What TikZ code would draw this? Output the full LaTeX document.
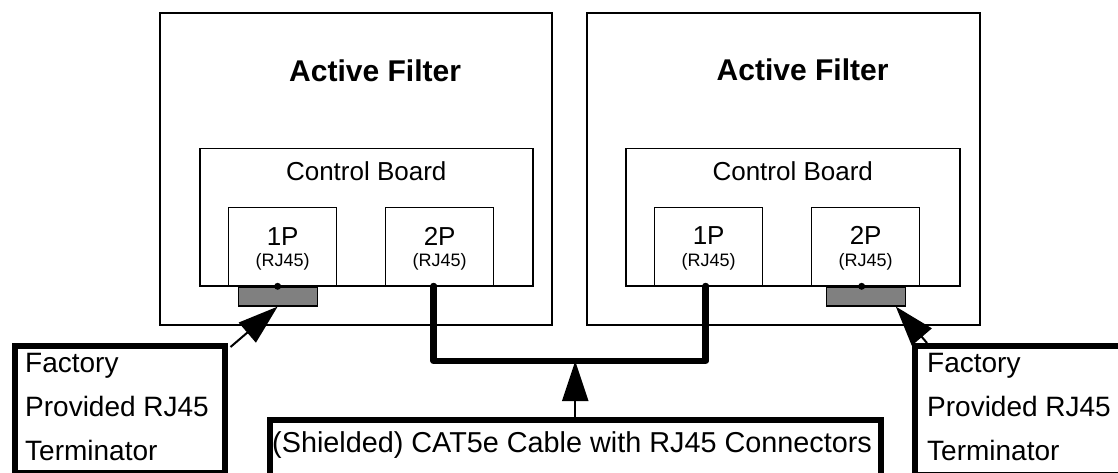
\documentclass[tikz,border=0pt]{standalone}
\usepackage{fontspec}
\setmainfont{Liberation Sans}
\usepackage{tikz}
\usetikzlibrary{positioning,arrows.meta,calc}
\definecolor{pluggray}{HTML}{808080}
\newcommand{\ttlfont}{\fontsize{30}{36}\selectfont\bfseries}
\newcommand{\brdfont}{\fontsize{26}{30}\selectfont}
\newcommand{\rjfont}{\fontsize{18}{22}\selectfont}
\newcommand{\tagfont}{\fontsize{28}{44}\selectfont}
\tikzset{
  afbox/.style  = {rectangle, draw=black, line width=2.2pt, anchor=north west, inner sep=0pt},
  board/.style  = {rectangle, draw=black, fill=white, line width=1.5pt, anchor=north west, inner sep=0pt,
                   minimum height=137pt},
  port/.style   = {rectangle, draw=black, fill=white, line width=1.3pt, anchor=north west, inner sep=0pt,
                   minimum width=108pt, minimum height=78pt},
  plug/.style   = {rectangle, draw=black, fill=pluggray, line width=1.3pt, anchor=north, inner sep=0pt,
                   minimum width=79pt, minimum height=19pt},
  tag/.style    = {rectangle, draw=black, fill=white, line width=5.5pt, anchor=north west, inner sep=0pt},
  tagtxt/.style = {anchor=north west, align=left, inner sep=0pt, font=\tagfont},
  cable/.style  = {line width=6.5pt, line join=round, line cap=round},
  ptr/.style    = {-{Triangle[length=40pt,width=26pt]}, line width=2pt},
  txt/.style    = {anchor=base, inner sep=0pt},
}

\begin{document}
\begin{tikzpicture}[x=1pt, y=-1pt]
  \useasboundingbox (0,0) rectangle (1118,473);
  \clip (0,0) rectangle (1118,473);
  % filters
  \node[afbox, minimum width=392pt, minimum height=312pt] (afl) at (159,12) {};
  \node[afbox, minimum width=393pt, minimum height=312pt] (afr) at (586,12) {};
  \node[txt, font=\ttlfont] (afltxt) at ([xshift=19pt, yshift=-70pt]afl.north) {Active Filter};
  \node[txt, font=\ttlfont] (afrtxt) at ([xshift=19pt, yshift=-69pt]afr.north) {Active Filter};
  % control boards
  \node[board, minimum width=333pt] (cbl) at (199,148) {};
  \node[board, minimum width=334pt] (cbr) at (625,148) {};
  \node[txt, font=\brdfont] (cbltxt) at ([yshift=-33pt]cbl.north) {Control Board};
  \node[txt, font=\brdfont] (cbrtxt) at ([yshift=-33pt]cbr.north) {Control Board};
  % ports
  \node[port] (p1l) at (228,207) {};
  \node[port] (p2l) at (385,207) {};
  \node[port] (p1r) at (654,207) {};
  \node[port] (p2r) at (811,207) {};
  \node[txt, font=\brdfont] (p1lt) at ([yshift=-38pt]p1l.north) {1P};
  \node[txt, font=\brdfont] (p2lt) at ([yshift=-38pt]p2l.north) {2P};
  \node[txt, font=\brdfont] (p1rt) at ([yshift=-37pt]p1r.north) {1P};
  \node[txt, font=\brdfont] (p2rt) at ([yshift=-37pt]p2r.north) {2P};
  \node[txt, font=\rjfont] (p1lrj) at ([yshift=-59pt]p1l.north) {(RJ45)};
  \node[txt, font=\rjfont] (p2lrj) at ([yshift=-59pt]p2l.north) {(RJ45)};
  \node[txt, font=\rjfont] (p1rrj) at ([yshift=-59pt]p1r.north) {(RJ45)};
  \node[txt, font=\rjfont] (p2rrj) at ([yshift=-59pt]p2r.north) {(RJ45)};
  % jacks, terminators and cable
  \coordinate (j1l) at ([xshift=-5pt]p1l.south);
  \coordinate (j2l) at ([xshift=-6pt]p2l.south);
  \coordinate (j1r) at ([xshift=-3pt]p1r.south);
  \coordinate (j2r) at ([xshift=-4pt]p2r.south);
  \coordinate (low) at (0,361);
  \node[plug] (terml) at (j1l) {};
  \node[plug] (termr) at (p2r.south) {};
  \draw[cable] (j2l) |- (low -| j1r) -- (j1r);
  \fill (j1l) circle (3.5pt) (j2l) circle (3.5pt) (j1r) circle (3.5pt) (j2r) circle (3.5pt);
  % callouts
  \node[tag, minimum width=210pt, minimum height=127pt] (tagl) at (12,343) {};
  \node[tag, minimum width=230pt, minimum height=129pt] (tagr) at (912,343) {};
  \node[tag, minimum width=611pt, minimum height=80pt] (tagc) at (267,417) {};
  \node[tagtxt] (tagltxt) at ([xshift=13pt, yshift=-10pt]tagl.north west) {Factory\\Provided RJ45\\Terminator};
  \node[tagtxt] (tagrtxt) at ([xshift=15pt, yshift=-10pt]tagr.north west) {Factory\\Provided RJ45\\Terminator};
  \node[anchor=base west, inner sep=0pt, font=\fontsize{28.8}{34}\selectfont] (tagctxt)
    at ([xshift=5pt, yshift=-35pt]tagc.north west) {(Shielded) CAT5e Cable with RJ45 Connectors};
  \draw[ptr] ([xshift=3pt, yshift=-4pt]tagl.north east) -- (terml.south);
  \draw[ptr] ([xshift=15pt]tagr.north west) -- ([xshift=-10pt]termr.south east);
  \draw[ptr] (tagc.north) -- (tagc.north |- low);
\end{tikzpicture}
\end{document}
